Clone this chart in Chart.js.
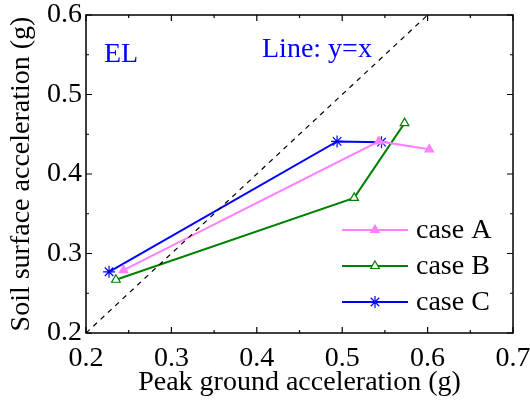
<!DOCTYPE html>
<html>
<head>
<meta charset="UTF-8">
<title>EL</title>
<script src="https://cdn.jsdelivr.net/npm/chart.js"></script>
<style>
  html, body { margin: 0; padding: 0; background: #fff; }
  #wrap { width: 530px; height: 400px; }
</style>
</head>
<body>
<div id="wrap"><canvas id="elChart" width="530" height="400"></canvas></div>
<script>
// data
var caseA_x = [0.244, 0.543, 0.602];
var caseA_y = [0.279, 0.441, 0.431];
var caseB_x = [0.235, 0.514, 0.573];
var caseB_y = [0.267, 0.370, 0.464];
var caseC_x = [0.227, 0.494, 0.546];
var caseC_y = [0.277, 0.441, 0.440];
var refLine = [0.2, 0.6]; // y = x
var seriesNames = ['case A', 'case B', 'case C'];
var xTicks = [0.2, 0.3, 0.4, 0.5, 0.6, 0.7];
var yTicks = [0.2, 0.3, 0.4, 0.5, 0.6];

var serif = "'Liberation Serif', 'Times New Roman', serif";

function pts(xs, ys) {
    return xs.map(function (x, i) { return { x: x, y: ys[i] }; });
}

var styles = [
    { color: '#ff80ff', fill: '#ff80ff', pointStyle: 'triangle', radius: 5 },
    { color: '#008000', fill: '#ffffff', pointStyle: 'triangle', radius: 5 },
    { color: '#0000ff', fill: '#0000ff', pointStyle: 'star', radius: 6 }
];

// ticks inward on all 4 sides + box + text + legend
var decoPlugin = {
    id: 'deco',
    afterDraw: function (chart) {
        var ctx = chart.ctx, a = chart.chartArea;
        var xs = chart.scales.x, ys = chart.scales.y;
        ctx.save();
        ctx.strokeStyle = '#000';
        ctx.lineWidth = 1.5;
        ctx.strokeRect(a.left, a.top, a.right - a.left, a.bottom - a.top);
        ctx.lineWidth = 1.2;
        var i, v, p, len;
        for (i = 0; i <= 10; i++) {
            v = xs.min + i * 0.05;
            p = xs.getPixelForValue(v);
            len = i % 2 === 0 ? 6 : 3;
            ctx.beginPath();
            ctx.moveTo(p, a.bottom); ctx.lineTo(p, a.bottom - len);
            ctx.moveTo(p, a.top); ctx.lineTo(p, a.top + len);
            ctx.stroke();
        }
        for (i = 0; i <= 8; i++) {
            v = ys.min + i * 0.05;
            p = ys.getPixelForValue(v);
            len = i % 2 === 0 ? 6 : 3;
            ctx.beginPath();
            ctx.moveTo(a.left, p); ctx.lineTo(a.left + len, p);
            ctx.moveTo(a.right, p); ctx.lineTo(a.right - len, p);
            ctx.stroke();
        }

        // annotations
        ctx.fillStyle = '#0000ff';
        ctx.font = '28px ' + serif;
        ctx.textBaseline = 'alphabetic';
        ctx.textAlign = 'left';
        ctx.fillText('EL', 104, 62);
        ctx.fillText('Line: y=x', 262, 57);

        // legend
        var rows = [230, 266, 302];
        ctx.font = '28px ' + serif;
        ctx.textBaseline = 'middle';
        for (i = 0; i < 3; i++) {
            var st = styles[i];
            ctx.strokeStyle = st.color;
            ctx.lineWidth = 2;
            ctx.beginPath();
            ctx.moveTo(342, rows[i]); ctx.lineTo(408, rows[i]);
            ctx.stroke();
            ctx.fillStyle = st.fill;
            ctx.lineWidth = 1.2;
            Chart.helpers.drawPoint(ctx, {
                pointStyle: st.pointStyle, radius: st.radius, rotation: 0, borderWidth: 1.2
            }, 375, rows[i]);
            ctx.fillStyle = '#000';
            ctx.fillText(seriesNames[i], 416, rows[i] + 1);
        }
        ctx.restore();
    }
};

function mkSeries(i, data) {
    var st = styles[i];
    return {
        label: seriesNames[i],
        data: data,
        showLine: true,
        borderColor: st.color,
        backgroundColor: st.fill,
        borderWidth: 2,
        pointStyle: st.pointStyle,
        pointRadius: st.radius,
        pointBorderWidth: 1.2,
        pointBorderColor: st.color,
        pointBackgroundColor: st.fill,
        tension: 0
    };
}

var ctx = document.getElementById('elChart').getContext('2d');
var elChart = new Chart(ctx, {
    type: 'scatter',
    data: {
        datasets: [
            {
                label: 'y=x',
                data: pts(refLine, refLine),
                showLine: true,
                borderColor: '#000',
                borderWidth: 1.2,
                borderDash: [5, 5],
                pointRadius: 0
            },
            mkSeries(0, pts(caseA_x, caseA_y)),
            mkSeries(1, pts(caseB_x, caseB_y)),
            mkSeries(2, pts(caseC_x, caseC_y))
        ]
    },
    options: {
        responsive: false,
        animation: false,
        layout: { padding: { top: 15, right: 17, left: 0, bottom: 0 } },
        plugins: {
            legend: { display: false },
            tooltip: { enabled: false }
        },
        scales: {
            x: {
                type: 'linear',
                min: 0.2, max: 0.7,
                afterBuildTicks: function (s) { s.ticks = xTicks.map(function (v) { return { value: v }; }); },
                afterFit: function (s) {
                    s.height = 67;
                    s.paddingLeft = 0; s.paddingRight = 0;
                },
                grid: { display: false, drawTicks: false },
                border: { display: false },
                ticks: {
                    color: '#000',
                    padding: 9,
                    maxRotation: 0,
                    autoSkip: false,
                    font: { family: serif, size: 28 },
                    callback: function (v) { return v.toFixed(1); }
                },
                title: {
                    display: true,
                    text: 'Peak ground acceleration (g)',
                    color: '#000',
                    font: { family: serif, size: 28 },
                    padding: { top: 0, bottom: 1 }
                }
            },
            y: {
                type: 'linear',
                min: 0.2, max: 0.6,
                afterBuildTicks: function (s) { s.ticks = yTicks.map(function (v) { return { value: v }; }); },
                afterFit: function (s) {
                    s.width = 86;
                    s.paddingTop = 0; s.paddingBottom = 0;
                },
                grid: { display: false, drawTicks: false },
                border: { display: false },
                ticks: {
                    color: '#000',
                    padding: 4,
                    autoSkip: false,
                    font: { family: serif, size: 28 },
                    callback: function (v) { return v.toFixed(1); }
                },
                title: {
                    display: true,
                    text: 'Soil surface acceleration (g)',
                    color: '#000',
                    font: { family: serif, size: 28 },
                    padding: { top: 5, bottom: 0 }
                }
            }
        }
    },
    plugins: [decoPlugin]
});
</script>
</body>
</html>
